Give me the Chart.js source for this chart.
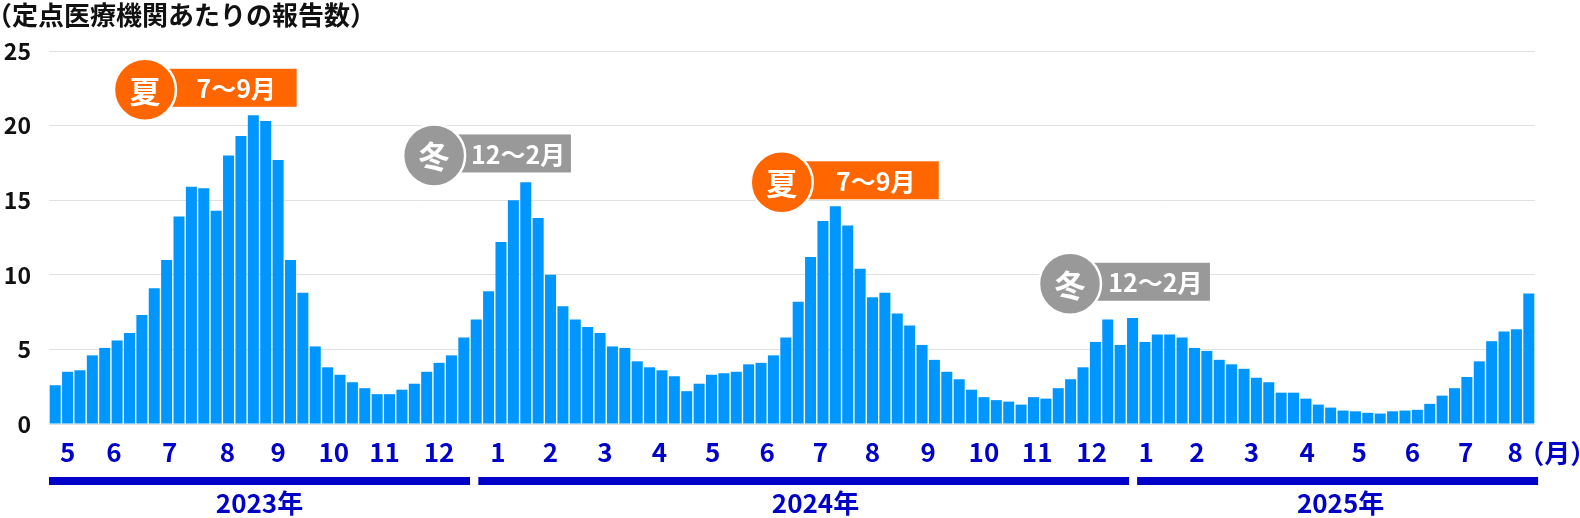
<!DOCTYPE html>
<html lang="ja">
<head>
<meta charset="utf-8">
<title>定点医療機関あたりの報告数</title>
<script src="https://cdn.jsdelivr.net/npm/chart.js"></script>
<style>
  body { margin: 0; background: #fff; }
  #wrap { width: 1580px; height: 518px; }
</style>
</head>
<body>
<div id="wrap"><canvas id="reportChart" width="1580" height="518"></canvas></div>
<script>
// weekly reports per sentinel site, May 2023 - Aug 2025
const weeklyValues = [
  2.6, 3.5, 3.6, 4.6, 5.1, 5.6, 6.1, 7.3, 9.1, 11.0, 13.9, 15.9, 15.8, 14.3, 18.0, 19.3, 20.7, 20.3, 17.7, 11.0,
  8.8, 5.2, 3.8, 3.3, 2.8, 2.4, 2.0, 2.0, 2.3, 2.7, 3.5, 4.1, 4.6, 5.8, 7.0, 8.9, 12.2, 15.0, 16.2, 13.8,
  10.0, 7.9, 7.0, 6.5, 6.1, 5.2, 5.1, 4.2, 3.8, 3.6, 3.2, 2.2, 2.7, 3.3, 3.4, 3.5, 4.0, 4.1, 4.6, 5.8,
  8.2, 11.2, 13.6, 14.6, 13.3, 10.4, 8.5, 8.8, 7.4, 6.6, 5.3, 4.3, 3.5, 3.0, 2.3, 1.8, 1.6, 1.5, 1.3, 1.8,
  1.7, 2.4, 3.0, 3.8, 5.5, 7.0, 5.3, 7.1, 5.5, 6.0, 6.0, 5.8, 5.1, 4.9, 4.3, 4.0, 3.7, 3.1, 2.8, 2.1,
  2.1, 1.7, 1.3, 1.1, 0.9, 0.85, 0.75, 0.7, 0.85, 0.9, 0.95, 1.35, 1.9, 2.4, 3.15, 4.2, 5.55, 6.2, 6.35, 8.75
];

// month tick labels and where they sit (in week index)
const monthLabels = ['5', '6', '7', '8', '9', '10', '11', '12',
  '1', '2', '3', '4', '5', '6', '7', '8', '9', '10', '11', '12',
  '1', '2', '3', '4', '5', '6', '7', '8'];
const monthTickPos = [1, 4.75, 9.25, 13.9, 18, 22.5, 26.6, 31,
  35.75, 40, 44.4, 48.8, 53.1, 57.5, 61.8, 66, 70.5, 75, 79.3, 83.7,
  88.1, 92.2, 96.6, 101.1, 105.3, 109.6, 113.9, 117.9];

const yearLabels = ['2023年', '2024年', '2025年'];
const yearStart = [-0.5, 34.17, 87.37];
const yearEnd = [33.5, 86.72, 119.75];
const yearLabelPos = [16.5, 61.4, 103.8];

const yTicks = [0, 5, 10, 15, 20, 25];

// season badges, positioned in data units
const badges = [
  { x: 7.25, y: 22.4, x2: 19.5, mark: '夏', text: '7〜9月', color: '#ff6600' },
  { x: 30.6, y: 18.0, x2: 41.65, mark: '冬', text: '12〜2月', color: '#999999' },
  { x: 58.67, y: 16.2, x2: 71.35, mark: '夏', text: '7〜9月', color: '#ff6600' },
  { x: 81.95, y: 9.4, x2: 93.25, mark: '冬', text: '12〜2月', color: '#999999' }
];

const FONT = '"Noto Sans CJK JP", "Noto Sans", sans-serif';
const NAVY = '#0000c8';

const extras = {
  id: 'extras',
  afterDraw(chart) {
    const ctx = chart.ctx;
    const xs = chart.scales.x;
    const ys = chart.scales.y;
    ctx.save();

    // title
    ctx.fillStyle = '#111';
    ctx.font = 'bold 26px ' + FONT;
    ctx.textAlign = 'left';
    ctx.textBaseline = 'middle';
    ctx.fillText('（定点医療機関あたりの報告数）', -14, 15);

    // (月) after the last month
    ctx.fillStyle = NAVY;
    ctx.font = 'bold 26px ' + FONT;
    ctx.textAlign = 'center';
    ctx.fillText('（月）', xs.getPixelForValue(121.3), 453);

    // year bars + labels
    for (let i = 0; i < yearLabels.length; i++) {
      const a = xs.getPixelForValue(yearStart[i]);
      const b = xs.getPixelForValue(yearEnd[i]);
      ctx.fillStyle = NAVY;
      ctx.fillRect(a, 477, b - a, 8);
      ctx.font = 'bold 26px ' + FONT;
      ctx.textAlign = 'center';
      ctx.fillText(yearLabels[i], xs.getPixelForValue(yearLabelPos[i]), 503);
    }

    // badges
    badges.forEach(function (b) {
      const cx = xs.getPixelForValue(b.x);
      const cy = ys.getPixelForValue(b.y);
      const right = xs.getPixelForValue(b.x2);
      const r = 31;
      ctx.fillStyle = b.color;
      ctx.fillRect(cx, cy - 21, right - cx, 38);
      ctx.beginPath();
      ctx.arc(cx, cy, r, 0, Math.PI * 2);
      ctx.fill();
      ctx.lineWidth = 2.5;
      ctx.strokeStyle = '#fff';
      ctx.stroke();
      ctx.fillStyle = '#fff';
      ctx.textAlign = 'center';
      ctx.textBaseline = 'middle';
      ctx.font = 'bold 31px ' + FONT;
      ctx.fillText(b.mark, cx, cy + 1);
      ctx.font = 'bold 25px ' + FONT;
      ctx.fillText(b.text, (cx + r + right) / 2, cy - 1);
    });

    ctx.restore();
  }
};

const ctx = document.getElementById('reportChart').getContext('2d');
const reportChart = new Chart(ctx, {
  type: 'bar',
  data: {
    datasets: [{
      label: '報告数',
      data: weeklyValues.map(function (v, i) { return { x: i, y: v }; }),
      backgroundColor: '#0096ff',
      borderWidth: 0,
      categoryPercentage: 1,
      barPercentage: 0.89
    }]
  },
  options: {
    responsive: false,
    animation: false,
    layout: { padding: { top: 51, right: 45, left: 0, bottom: 0 } },
    plugins: {
      legend: { display: false },
      tooltip: { enabled: false }
    },
    scales: {
      x: {
        type: 'linear',
        offset: false,
        min: -0.5,
        max: weeklyValues.length - 0.5,
        grid: { display: false, drawTicks: false },
        border: { display: false },
        afterBuildTicks: function (scale) {
          scale.ticks = monthTickPos.map(function (v) { return { value: v }; });
        },
        afterFit: function (scale) { scale.height = 94; },
        ticks: {
          autoSkip: false,
          maxRotation: 0,
          padding: 13,
          color: NAVY,
          font: { family: FONT, size: 26, weight: 'bold' },
          callback: function (value, index) { return monthLabels[index]; }
        }
      },
      y: {
        min: 0,
        max: 25,
        afterBuildTicks: function (scale) {
          scale.ticks = yTicks.map(function (v) { return { value: v }; });
        },
        afterFit: function (scale) { scale.width = 49; },
        grid: { color: '#e0e0e0', lineWidth: 1, drawTicks: false },
        border: { display: false },
        ticks: {
          padding: 18,
          color: '#111',
          font: { family: FONT, size: 23, weight: 'bold' }
        }
      }
    }
  },
  plugins: [extras]
});
</script>
</body>
</html>
